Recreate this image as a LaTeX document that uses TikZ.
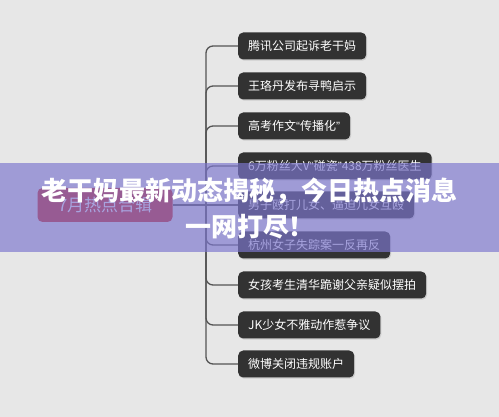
\documentclass[tikz,border=0pt]{standalone}
\usepackage{fontspec}
\setmainfont{Noto Sans CJK SC}
\newfontfamily\cjk{Noto Sans CJK SC}
\newfontfamily\lat{Liberation Sans}
\usetikzlibrary{shadows}
\definecolor{bggray}{RGB}{231,231,231}
\definecolor{boxdark}{RGB}{50,50,50}
\definecolor{linegray}{RGB}{85,85,85}
\definecolor{centerred}{RGB}{205,35,25}
\definecolor{veil}{RGB}{125,119,207}
\tikzset{
  leaf/.style={draw=none, fill=boxdark, rounded corners=5pt, text=white,
    font=\cjk\fontsize{12}{14}\selectfont, minimum height=27pt, inner xsep=10pt,
    anchor=west, drop shadow={opacity=0.25, shadow xshift=1pt, shadow yshift=-1.2pt}},
  hub/.style={fill=centerred, rounded corners=5pt, text=white,
    font=\cjk\fontsize{17}{19}\selectfont, minimum width=135pt, minimum height=34pt},
  link/.style={draw=linegray, line width=1.3pt, rounded corners=7pt},
  headline/.style={text=white, font=\cjk\bfseries\fontsize{26}{30}\selectfont}
}
\begin{document}
\begin{tikzpicture}[x=1pt,y=-1pt]
\fill[bggray] (0,0) rectangle (499,417);
\useasboundingbox (0,0) rectangle (499,417);
\node[hub] (hub) at (105,205) {7月热点合辑};
\coordinate (j) at (206,205);
\node[leaf] (n1) at (238,46) {腾讯公司起诉老干妈};
\node[leaf] (n2) at (238,86) {王珞丹发布寻鸭启示};
\node[leaf] (n3) at (238,126) {高考作文{\lat “}传播化{\lat ”}};
\node[leaf] (n4) at (238,166) {6万粉丝大V{\lat “}碰瓷{\lat ”}438万粉丝医生};
\node[leaf] (n5) at (238,205) {男子殴打儿女、逼迫儿女互殴};
\node[leaf] (n6) at (238,245) {杭州女子失踪案一反再反};
\node[leaf] (n7) at (238,285) {女孩考生清华跪谢父亲疑似摆拍};
\node[leaf] (n8) at (238,325) {JK少女不雅动作惹争议};
\node[leaf] (n9) at (238,364) {微博关闭违规账户};
\draw[link] (hub.east) -- (n5.west);
\foreach \n in {n1,n2,n3,n4,n6,n7,n8,n9}{
  \draw[link] (j) |- (\n.west);
}
\fill[veil, opacity=0.67] (0,163) rectangle (499,252);
\node[headline] (t1) at (249.5,191) {老干妈最新动态揭秘，今日热点消息};
\node[headline] (t2) at (250,227) {一网打尽！};
\end{tikzpicture}
\end{document}
